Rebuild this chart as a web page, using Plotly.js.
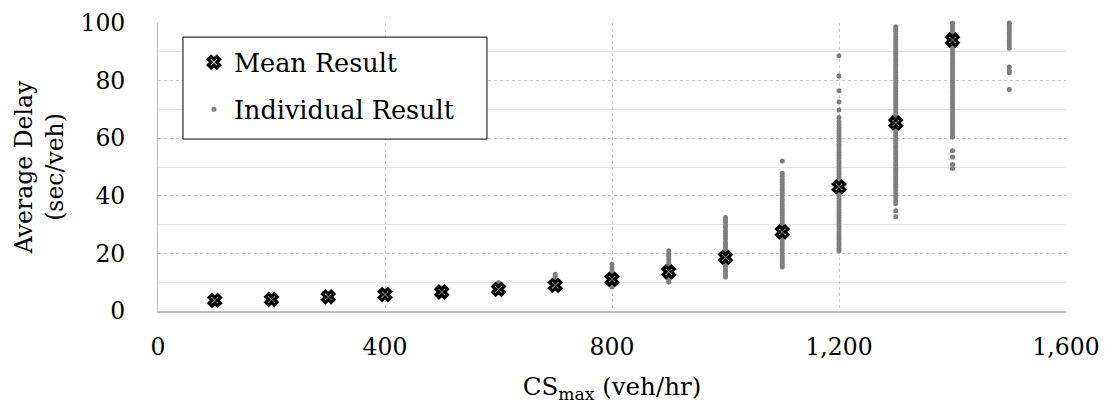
<!DOCTYPE html>
<html>
<head>
<meta charset="utf-8">
<script src="https://cdn.plot.ly/plotly-3.0.1.min.js"></script>
<style>
  html, body { margin: 0; padding: 0; background: #fff; }
  #chart { width: 1105px; height: 404px; }
</style>
</head>
<body>
<div id="chart"></div>
<script>
// Maximum connector capacity values (veh/hr)
const csMax = [100, 200, 300, 400, 500, 600, 700, 800, 900, 1000, 1100, 1200, 1300, 1400];
// Mean average delay per capacity (sec/veh)
const meanDelay = [3.7, 4.0, 4.9, 5.7, 6.6, 7.5, 8.9, 11.0, 13.6, 18.6, 27.5, 43.1, 65.3, 94.1];

// Individual simulation results (sec/veh), one list per capacity
const delay100 = [3.1, 3.5, 3.8, 4.2, 4.4];
const delay200 = [3.3, 3.7, 4.1, 4.5, 4.8];
const delay300 = [4.1, 4.6, 5.0, 5.5, 5.9];
const delay400 = [4.7, 5.3, 5.8, 6.4, 6.9];
const delay500 = [5.5, 6.1, 6.8, 7.4, 8.0];
const delay600 = [6.4, 7.1, 7.8, 8.6, 9.3, 9.9];
const delay700 = [8.4, 9.2, 10.1, 10.9, 11.8, 12.8];
const delay800 = [8.3, 9.1, 10.0, 10.9, 11.7, 12.6, 13.5, 14.3, 15.2, 16.2];
const delay900 = [10.1, 11.0, 11.9, 12.9, 13.8, 14.8, 15.9, 16.8, 17.9, 18.9, 19.8, 20.9];
const delay1000 = [11.8, 12.6, 13.7, 14.5, 15.6, 16.4, 17.5, 18.3, 19.4, 20.2, 21.3, 22.1,
  23.2, 24.0, 25.1, 26.0, 27.0, 27.8, 28.9, 29.7, 30.8, 31.6, 32.5];
const delay1100 = [15.3, 16.2, 17.2, 18.1, 19.1, 20.0, 21.0, 21.9, 22.9, 23.8, 24.8, 25.7,
  26.7, 27.6, 28.6, 29.5, 30.5, 31.4, 32.4, 33.3, 34.3, 35.2, 36.2, 37.1, 38.1, 39.0, 40.0,
  40.9, 41.9, 42.8, 43.8, 44.7, 45.7, 46.8, 47.8, 52.1];
const delay1200 = [20.9, 21.8, 22.8, 23.7, 24.7, 25.6, 26.6, 27.5, 28.5, 29.4, 30.4, 31.3,
  32.3, 33.2, 34.2, 35.1, 36.1, 37.0, 38.0, 38.9, 39.9, 40.8, 41.8, 42.7, 43.7, 44.6, 45.6,
  46.5, 47.5, 48.4, 49.4, 50.3, 51.3, 52.2, 53.2, 54.1, 55.1, 56.0, 57.0, 57.9, 58.9, 59.8,
  60.8, 61.7, 62.7, 63.6, 64.7, 65.7, 67.2, 69.8, 72.6, 76.5, 81.6, 88.6];
const delay1300 = [32.7, 34.8, 37.3, 38.2, 39.2, 40.1, 41.1, 42.0, 43.0, 43.9, 44.9, 45.8,
  46.8, 47.7, 48.7, 49.6, 50.6, 51.5, 52.5, 53.4, 54.4, 55.3, 56.3, 57.2, 58.2, 59.1, 60.1,
  61.0, 62.0, 62.9, 63.9, 64.8, 65.8, 66.7, 67.7, 68.6, 69.6, 70.5, 71.5, 72.4, 73.4, 74.3,
  75.3, 76.2, 77.2, 78.1, 79.1, 80.0, 81.0, 81.9, 82.9, 83.8, 84.8, 85.7, 86.7, 87.6, 88.6,
  89.5, 90.5, 91.4, 92.4, 93.3, 94.3, 95.2, 96.2, 97.1, 97.9, 98.7];
const delay1400 = [49.5, 50.9, 53.5, 55.6, 60.3, 61.2, 62.2, 63.1, 64.1, 65.0, 66.0, 66.9,
  67.9, 68.8, 69.8, 70.7, 71.7, 72.6, 73.6, 74.5, 75.5, 76.4, 77.4, 78.3, 79.3, 80.2, 81.2,
  82.1, 83.1, 84.0, 85.0, 85.9, 86.9, 87.8, 88.8, 89.7, 90.7, 91.6, 92.6, 93.5, 94.5, 95.4,
  96.4, 97.3, 98.3, 99.2, 100.0];
const delay1500 = [76.9, 82.7, 83.6, 84.7, 91.2, 92.2, 93.1, 94.0, 94.9, 95.9, 96.8, 97.7,
  98.6, 99.4, 100.0];

const individualGroups = [
  [100, delay100], [200, delay200], [300, delay300], [400, delay400], [500, delay500],
  [600, delay600], [700, delay700], [800, delay800], [900, delay900], [1000, delay1000],
  [1100, delay1100], [1200, delay1200], [1300, delay1300], [1400, delay1400], [1500, delay1500]
];
const indivX = [];
const indivY = [];
individualGroups.forEach(([cs, vals]) => {
  vals.forEach(v => { indivX.push(cs); indivY.push(v); });
});

const serif = 'DejaVu Serif';

const traces = [
  {
    type: 'scatter', mode: 'markers', name: 'Individual Result',
    x: indivX, y: indivY, legendrank: 2, legendgroup: 'b',
    cliponaxis: false,
    marker: { symbol: 'circle', size: 5, color: '#7f7f7f' },
    hoverinfo: 'x+y'
  },
  {
    type: 'scatter', mode: 'markers', name: 'Mean Result',
    x: csMax, y: meanDelay, legendrank: 1, legendgroup: 'a',
    cliponaxis: false,
    marker: { symbol: 'x-open', size: 10, color: '#000', line: { color: '#000', width: 3.2 } },
    hoverinfo: 'x+y'
  }
];

const layout = {
  width: 1105, height: 404,
  margin: { l: 158, r: 39, t: 23, b: 93 },
  paper_bgcolor: '#fff', plot_bgcolor: '#fff',
  font: { family: serif, size: 23.5, color: '#000' },
  showlegend: true,
  // framed box behind the legend entries
  shapes: [{
    type: 'rect', xref: 'paper', yref: 'paper', layer: 'above',
    x0: 0.0275, x1: 0.3623, y0: 0.597, y1: 0.951,
    fillcolor: '#fff', line: { color: '#000', width: 1 }
  }],
  legend: {
    x: 0.0396, y: 0.944, xanchor: 'left', yanchor: 'top',
    bgcolor: 'rgba(0,0,0,0)', borderwidth: 0,
    font: { family: serif, size: 25.5, color: '#000' },
    tracegroupgap: 11, traceorder: 'grouped'
  },
  xaxis: {
    range: [0, 1600], dtick: 400, tick0: 0, tickformat: ',d',
    showgrid: true, gridcolor: '#c8c8c8', griddash: 'dot', gridwidth: 1,
    zeroline: false, showline: true, linecolor: '#bfbfbf', linewidth: 1.5,
    ticks: '', ticklabelstandoff: 14,
    tickfont: { family: serif, size: 23.5, color: '#000' },
    title: { text: 'CS<sub>max</sub> (veh/hr)', standoff: 20,
             font: { family: serif, size: 24.5, color: '#000' } },
    fixedrange: true
  },
  yaxis: {
    range: [0, 100], dtick: 20, tick0: 0,
    showgrid: true, gridcolor: '#c8c8c8', griddash: 'dot', gridwidth: 1,
    minor: { dtick: 10, showgrid: true, gridcolor: '#e6e6e6', griddash: 'solid', gridwidth: 1 },
    zeroline: false, showline: true, linecolor: '#bfbfbf', linewidth: 1,
    ticks: '', ticklabelstandoff: 27,
    tickfont: { family: serif, size: 23.5, color: '#000' },
    title: { text: 'Average Delay<br>(sec/veh)', standoff: 10,
             font: { family: serif, size: 23.5, color: '#000' } },
    fixedrange: true
  }
};

Plotly.newPlot('chart', traces, layout, { displayModeBar: false, staticPlot: true });
</script>
</body>
</html>
